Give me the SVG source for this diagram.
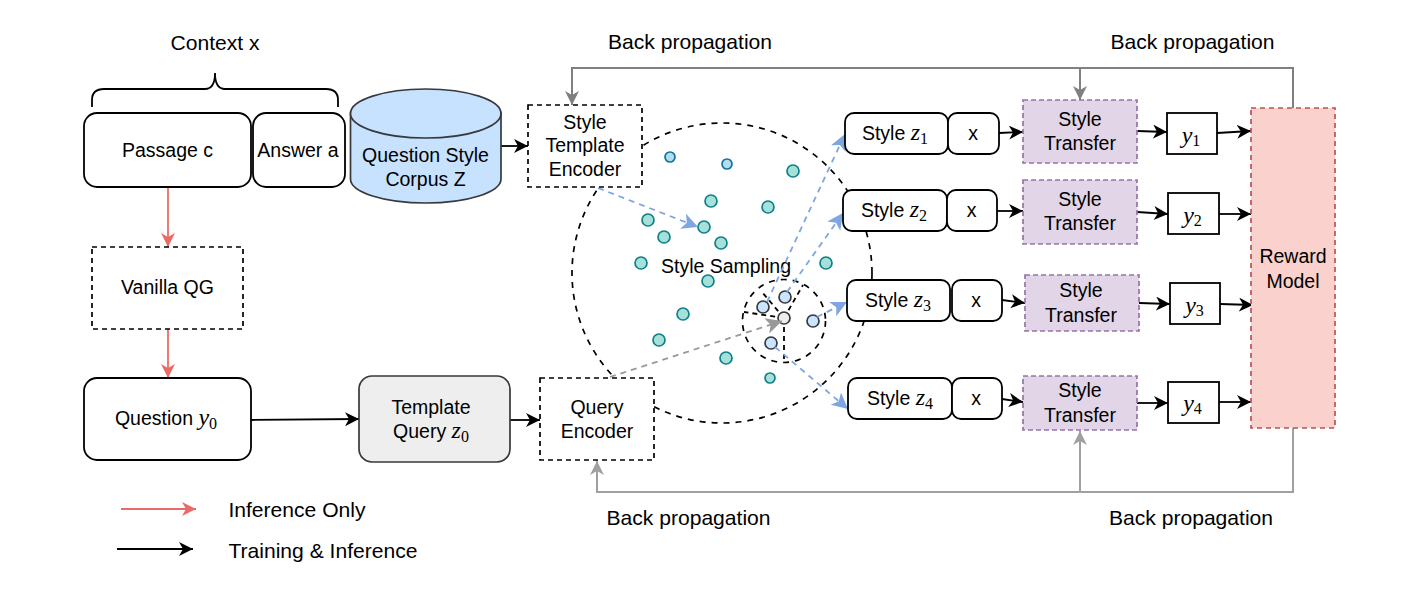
<svg xmlns="http://www.w3.org/2000/svg" width="1412" height="589" viewBox="0 0 1412 589">
<style>
text{font-family:"Liberation Sans",Arial,sans-serif;font-size:19.5px;fill:#000;text-anchor:middle}
.lg{font-size:21.100px}
.m{font-family:"Liberation Serif","DejaVu Serif",serif;font-style:italic;font-size:24px}
.s{font-family:"Liberation Serif","DejaVu Serif",serif;font-style:normal;font-size:16px}
.b{fill:#fff;stroke:#000;stroke-width:1.8}
.d{fill:#fff;stroke:#000;stroke-width:1.7;stroke-dasharray:5 4}
.st{fill:#e1d5e7;stroke:#9673a6;stroke-width:1.7;stroke-dasharray:5 3}
.c{fill:none;stroke-width:1.8}
.k{stroke:#000}.r{stroke:#ea6b66}.g{stroke:#808080;stroke-width:2}.g2{stroke:#a0a0a0;stroke-width:2}
.bl{stroke:#7ea6e0;stroke-dasharray:6 5}.gd{stroke:#999;stroke-dasharray:6 5}
.ring{fill:none;stroke:#000;stroke-width:1.7;stroke-dasharray:6 6}
.t{fill:#a6e0da;stroke:#0e8088;stroke-width:1.7}
.t2{fill:#b1ddf0;stroke:#10739e;stroke-width:1.7}
.p{fill:#cce5ff;stroke:#36393d;stroke-width:1.7}
</style>
<defs>
<marker id="ak" markerUnits="userSpaceOnUse" markerWidth="16" markerHeight="16" refX="14" refY="7" orient="auto"><path d="M0,0 L14,7 L0,14 L4,7 Z" fill="#000"/></marker>
<marker id="ar" markerUnits="userSpaceOnUse" markerWidth="16" markerHeight="16" refX="14" refY="7" orient="auto"><path d="M0,0 L14,7 L0,14 L4,7 Z" fill="#ea6b66"/></marker>
<marker id="ag" markerUnits="userSpaceOnUse" markerWidth="16" markerHeight="16" refX="14" refY="7" orient="auto"><path d="M0,0 L14,7 L0,14 L4,7 Z" fill="#808080"/></marker>
<marker id="ag2" markerUnits="userSpaceOnUse" markerWidth="16" markerHeight="16" refX="14" refY="7" orient="auto"><path d="M0,0 L14,7 L0,14 L4,7 Z" fill="#a0a0a0"/></marker>
<marker id="ab" markerUnits="userSpaceOnUse" markerWidth="18" markerHeight="18" refX="16" refY="8" orient="auto"><path d="M0,0 L16,8 L0,16 L4,8 Z" fill="#7ea6e0"/></marker>
<marker id="ad" markerUnits="userSpaceOnUse" markerWidth="18" markerHeight="18" refX="16" refY="8" orient="auto"><path d="M0,0 L16,8 L0,16 L4,8 Z" fill="#999"/></marker>
</defs>
<g id="sampling">
<circle class="ring" cx="722" cy="273" r="150"/>
<circle class="ring" cx="784" cy="321" r="41.5"/>
<path class="c k" stroke-dasharray="5 4" d="M784,318 L744,312 M784,318 L762,292 M784,318 L803,285 M784,318 L784,362"/>
<circle class="t2" cx="670" cy="157" r="5"/><circle class="t2" cx="727" cy="164" r="5"/>
<circle class="t" cx="793" cy="171" r="6"/><circle class="t" cx="711" cy="201" r="6"/><circle class="t" cx="768" cy="207" r="6"/><circle class="t" cx="648" cy="220" r="6"/><circle class="t" cx="704" cy="227" r="6"/><circle class="t" cx="664" cy="237" r="6"/><circle class="t" cx="721" cy="243" r="6"/><circle class="t" cx="641" cy="263" r="6"/><circle class="t" cx="826" cy="263" r="6"/><circle class="t" cx="708" cy="281" r="6"/><circle class="t" cx="683" cy="314" r="6"/><circle class="t" cx="659" cy="340" r="6"/><circle class="t" cx="726" cy="358" r="6"/><circle class="t" cx="770" cy="378" r="5"/>
<circle class="p" cx="763" cy="307" r="6"/><circle class="p" cx="785" cy="297" r="6"/><circle class="p" cx="813" cy="321" r="6"/><circle class="p" cx="771" cy="343" r="6"/>
<circle cx="784" cy="318" r="6" fill="#eee" stroke="#36393d" stroke-width="1.7"/>
<text x="726" y="273">Style Sampling</text>
</g>
<g id="connectors">
<path class="c bl" marker-end="url(#ab)" d="M598,188 L698,227"/>
<path class="c bl" marker-end="url(#ab)" d="M767,302 L845,134"/>
<path class="c bl" marker-end="url(#ab)" d="M787,292 L843,213"/>
<path class="c bl" marker-end="url(#ab)" d="M817,317 L847,302"/>
<path class="c bl" marker-end="url(#ab)" d="M775,347 L848,409"/>
<path class="c gd" marker-end="url(#ad)" d="M610,377 L782,321"/>
<path class="c r" marker-end="url(#ar)" d="M168,187 L168,247"/>
<path class="c r" marker-end="url(#ar)" d="M168,329 L168,378"/>
<path class="c r" marker-end="url(#ar)" d="M121,509 L196,509"/>
<path class="c k" marker-end="url(#ak)" d="M117,549 L193,549"/>
<path class="c k" marker-end="url(#ak)" d="M251,420 L359,419"/>
<path class="c k" marker-end="url(#ak)" d="M510,420 L540,420"/>
<path class="c k" marker-end="url(#ak)" d="M501,146 L528,146"/>
<path class="c k" marker-end="url(#ak)" d="M999,133 L1023,132"/>
<path class="c k" marker-end="url(#ak)" d="M1137,131 L1167,132"/>
<path class="c k" marker-end="url(#ak)" d="M1217,133 L1251,131"/>
<path class="c k" marker-end="url(#ak)" d="M997,211 L1023,211"/>
<path class="c k" marker-end="url(#ak)" d="M1137,212 L1168,214"/>
<path class="c k" marker-end="url(#ak)" d="M1219,214 L1251,214"/>
<path class="c k" marker-end="url(#ak)" d="M1002,300 L1025,303"/>
<path class="c k" marker-end="url(#ak)" d="M1139,303 L1170,304"/>
<path class="c k" marker-end="url(#ak)" d="M1220,304 L1253,305"/>
<path class="c k" marker-end="url(#ak)" d="M1002,399 L1023,402"/>
<path class="c k" marker-end="url(#ak)" d="M1137,403 L1168,403"/>
<path class="c k" marker-end="url(#ak)" d="M1219,402 L1251,402"/>
<path class="c g" marker-end="url(#ag)" d="M1293,108 L1293,68 L572,68 L572,105"/>
<path class="c g" marker-end="url(#ag)" d="M1080,68 L1080,100"/>
<path class="c g2" marker-end="url(#ag2)" d="M1293,428 L1293,492 L597,492 L597,461"/>
<path class="c g2" marker-end="url(#ag2)" d="M1080,492 L1080,431"/>
</g>
<g id="context">
<path class="c k" d="M92,107 V100 Q92,89 104,89 H205 Q215,89 215,73 Q215,89 225,89 H326 Q338,89 338,100 V107"/>
<text class="lg" x="215" y="50">Context x</text>
</g>
<g id="passage"><rect class="b" x="84" y="113" width="167" height="74" rx="13"/><text x="167.500" y="157">Passage c</text></g>
<g id="answer"><rect class="b" x="253" y="113" width="92" height="74" rx="13"/><text x="298" y="157">Answer a</text></g>
<g id="corpus"><path d="M350.500,113 V179 A75.250,24 0 0 0 501,179 V113 Z" fill="#c6e2ff" stroke="#36393d" stroke-width="1.7"/><ellipse cx="425.750" cy="113.500" rx="75.250" ry="24.500" fill="#c6e2ff" stroke="#36393d" stroke-width="1.7"/><text x="425.500" y="162">Question Style</text><text x="425.500" y="186">Corpus Z</text></g>
<g id="template-encoder"><rect class="d" x="528" y="105" width="114" height="82"/><text x="585" y="129">Style</text><text x="585" y="152">Template</text><text x="585" y="176">Encoder</text></g>
<g id="vanilla"><rect class="d" x="92" y="247" width="151" height="82"/><text x="167.500" y="294">Vanilla QG</text></g>
<g id="question"><rect class="b" x="84" y="378" width="167" height="82" rx="13"/><text x="166" y="425">Question <tspan class="m">y</tspan><tspan class="s" dy="4">0</tspan></text></g>
<g id="template-query"><rect x="359" y="376" width="151" height="86" rx="13" fill="#eee" stroke="#36393d" stroke-width="1.700"/><text x="431" y="414">Template</text><text x="431" y="438">Query <tspan class="m">z</tspan><tspan class="s" dy="4">0</tspan></text></g>
<g id="query-encoder"><rect class="d" x="540" y="378" width="114" height="82"/><text x="597" y="414">Query</text><text x="597" y="438">Encoder</text></g>
<g id="style1"><rect class="b" x="845" y="113" width="103" height="41" rx="9"/><text x="895" y="140">Style <tspan class="m">z</tspan><tspan class="s" dy="4">1</tspan></text></g>
<g id="x1"><rect class="b" x="948" y="113" width="51" height="41" rx="9"/><text x="973" y="140">x</text></g>
<g id="style2"><rect class="b" x="843" y="190" width="104" height="41" rx="9"/><text x="894" y="217">Style <tspan class="m">z</tspan><tspan class="s" dy="4">2</tspan></text></g>
<g id="x2"><rect class="b" x="947" y="190" width="50" height="41" rx="9"/><text x="971.500" y="217">x</text></g>
<g id="style3"><rect class="b" x="847" y="280" width="103" height="41" rx="9"/><text x="898" y="307">Style <tspan class="m">z</tspan><tspan class="s" dy="4">3</tspan></text></g>
<g id="x3"><rect class="b" x="952" y="280" width="50" height="41" rx="9"/><text x="976" y="307">x</text></g>
<g id="style4"><rect class="b" x="848" y="378" width="104" height="41" rx="9"/><text x="900" y="405">Style <tspan class="m">z</tspan><tspan class="s" dy="4">4</tspan></text></g>
<g id="x4"><rect class="b" x="952" y="378" width="50" height="41" rx="9"/><text x="976" y="405">x</text></g>
<g id="transfer1"><rect class="st" x="1023" y="100" width="114" height="63"/><text x="1080" y="126">Style</text><text x="1080" y="150">Transfer</text></g>
<g id="transfer2"><rect class="st" x="1023" y="180" width="114" height="64"/><text x="1080" y="206">Style</text><text x="1080" y="230">Transfer</text></g>
<g id="transfer3"><rect class="st" x="1025" y="275" width="114" height="56"/><text x="1081" y="297">Style</text><text x="1081" y="322">Transfer</text></g>
<g id="transfer4"><rect class="st" x="1023" y="376" width="114" height="54"/><text x="1080" y="397">Style</text><text x="1080" y="422">Transfer</text></g>
<g id="y1"><rect class="b" x="1167" y="113" width="50" height="41"/><text x="1191" y="143"><tspan class="m">y</tspan><tspan class="s" dy="3">1</tspan></text></g>
<g id="y2"><rect class="b" x="1168" y="193" width="51" height="41"/><text x="1192.500" y="223"><tspan class="m">y</tspan><tspan class="s" dy="3">2</tspan></text></g>
<g id="y3"><rect class="b" x="1170" y="283" width="50" height="41"/><text x="1194.500" y="313"><tspan class="m">y</tspan><tspan class="s" dy="3">3</tspan></text></g>
<g id="y4"><rect class="b" x="1168" y="382" width="51" height="41"/><text x="1192.500" y="411"><tspan class="m">y</tspan><tspan class="s" dy="3">4</tspan></text></g>
<g id="reward"><rect x="1251" y="108" width="84" height="320" fill="#fad1cc" stroke="#b85450" stroke-width="1.700" stroke-dasharray="5 4"/><text x="1293" y="263">Reward</text><text x="1293" y="288">Model</text></g>
<g id="labels">
<text class="lg" x="690" y="48.500">Back propagation</text>
<text class="lg" x="1192.500" y="48.500">Back propagation</text>
<text class="lg" x="688.500" y="524.500">Back propagation</text>
<text class="lg" x="1191" y="524.500">Back propagation</text>
<text class="lg" x="297" y="517">Inference Only</text>
<text class="lg" x="323" y="558">Training &amp; Inference</text>
</g>
</svg>
